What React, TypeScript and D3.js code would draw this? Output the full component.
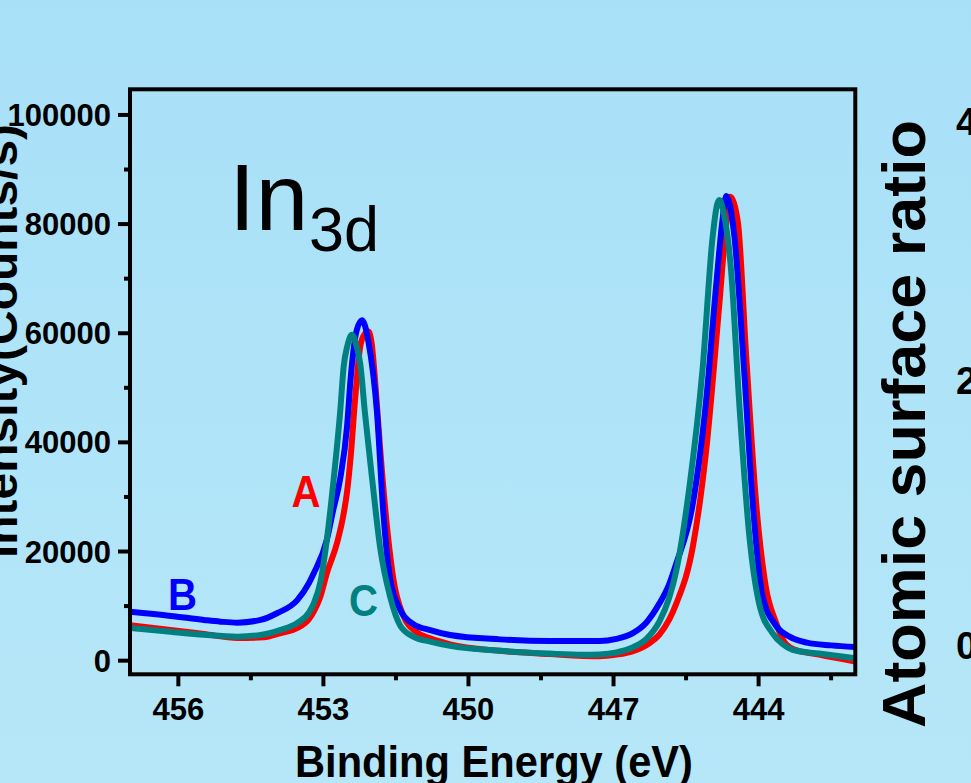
import React from "react";
import * as d3 from "d3";

// ---------- data ----------
const xTicks = [456, 453, 450, 447, 444];
const xMinorTicks = [454.5, 451.5, 448.5, 445.5, 442.5];
const yTicks = [0, 20000, 40000, 60000, 80000, 100000];
const yMinorTicks = [10000, 30000, 50000, 70000, 90000];
const rightTickLabels = ["4", "2", "0"];

const seriesNames = ["A", "B", "C"];
const seriesColors = ["#ff0000", "#0000ff", "#008080"];

// [binding energy (eV), intensity (counts/s)]
const curveA: [number, number][] = [
  [457, 6500], [456.16, 5630], [455.47, 4890], [454.78, 4150], [454.23, 4290],
  [453.9, 5020], [453.54, 6000], [453.3, 7600], [453.2, 9000], [453.06, 11800],
  [452.93, 16000], [452.72, 21500], [452.58, 27000], [452.51, 31000], [452.44, 37000],
  [452.34, 48400], [452.24, 57500], [452.15, 59800], [452.07, 60300], [452.0, 58000],
  [451.92, 50000], [451.83, 39200], [451.69, 25000], [451.55, 14800], [451.35, 8300],
  [451.07, 5200], [450.79, 4100], [450.38, 3000], [449.35, 1800], [448.32, 1200],
  [447.29, 800], [446.94, 1100], [446.61, 1700], [446.26, 3200], [446.05, 4800],
  [445.85, 7500], [445.7, 10500], [445.36, 20900], [445.09, 38000], [444.81, 65500],
  [444.67, 80000], [444.59, 85000], [444.43, 80500], [444.26, 56300], [444.05, 28800],
  [443.85, 13500], [443.64, 7000], [443.5, 3900], [443.3, 2200], [442.75, 1100],
  [442, -150],
];

const curveB: [number, number][] = [
  [457, 8950], [456.16, 8200], [455.47, 7460], [455.13, 7150], [454.78, 6960],
  [454.3, 7460], [453.96, 8690], [453.54, 11100], [453.3, 14200], [453.2, 16000],
  [452.93, 22100], [452.8, 27500], [452.65, 33500], [452.51, 43000], [452.44, 51400],
  [452.31, 60600], [452.2, 62400], [452.07, 58500], [451.89, 45300], [451.76, 27000],
  [451.62, 15000], [451.41, 9300], [451.14, 6700], [450.79, 5600], [450.38, 4700],
  [449.35, 3900], [448.32, 3600], [447.29, 3600], [446.94, 4000], [446.61, 5000],
  [446.32, 7000], [446.05, 10500], [445.85, 14000], [445.7, 17850], [445.36, 28800],
  [445.09, 47200], [444.88, 68500], [444.75, 80500], [444.67, 85150], [444.5, 77700],
  [444.3, 53300], [444.12, 28800], [443.92, 11900], [443.64, 6400], [443.36, 4400],
  [443, 3300], [442.5, 2800], [442, 2500],
];

const curveC: [number, number][] = [
  [457, 6000], [456.16, 5300], [455.47, 4750], [454.78, 4400], [454.3, 4700],
  [453.9, 5600], [453.54, 6900], [453.3, 8800], [453.2, 10500], [453.06, 14500],
  [452.93, 22100], [452.79, 33100], [452.65, 46000], [452.58, 54000], [452.51, 57500],
  [452.41, 59700], [452.31, 57500], [452.24, 54500], [452.14, 45300], [451.99, 33100],
  [451.83, 20900], [451.62, 11700], [451.41, 6400], [451.14, 4400], [450.79, 3480],
  [450.38, 2700], [449.35, 1800], [448.32, 1300], [447.64, 1100], [447.29, 1150],
  [446.94, 1500], [446.61, 2400], [446.32, 4000], [446.05, 7200], [445.85, 11500],
  [445.7, 16600], [445.43, 31900], [445.16, 53300], [444.95, 77700], [444.86, 83500],
  [444.81, 84400], [444.72, 82000], [444.57, 71600], [444.4, 47200], [444.19, 22700],
  [443.99, 10500], [443.71, 5000], [443.5, 3000], [443.3, 2000], [442.75, 1300],
  [442, 450],
];

const curves = [curveA, curveB, curveC];

// label anchor positions in data units (energy, intensity)
const labelPos: [number, number][] = [
  [451.99, 28400], // A
  [454.9, 9300], // B
  [452.07, 8000], // C
];

export default function App() {
  const W = 971;
  const H = 783;
  const left = 130, right = 855.3, top = 89.3, bottom = 674.3;

  const x = d3.scaleLinear().domain([457, 442]).range([left, right]);
  const y = d3.scaleLinear().domain([-2500, 104700]).range([bottom, top]);

  const line = d3
    .line<[number, number]>()
    .x((d) => x(d[0]))
    .y((d) => y(d[1]))
    .curve(d3.curveMonotoneX);

  const font = "'Liberation Sans', Arial, Helvetica, sans-serif";
  const labelPx: [number, number][] = [
    [306, 507],
    [182.5, 610],
    [363.5, 616],
  ];

  return (
    <svg
      width={W}
      height={H}
      style={{ position: "absolute", left: 0, top: 0, display: "block" }}
      xmlns="http://www.w3.org/2000/svg"
    >
      <defs>
        <linearGradient id="bg" x1="0" y1="0" x2="0" y2="1">
          <stop offset="0" stopColor="#a8e0f8" />
          <stop offset="1" stopColor="#b6e7f8" />
        </linearGradient>
        <clipPath id="plot">
          <rect x={left} y={top} width={right - left} height={bottom - top} />
        </clipPath>
      </defs>
      <rect x={0} y={0} width={W} height={H} fill="url(#bg)" />

      {/* curves */}
      <g clipPath="url(#plot)">
        {curves.map((c, i) => (
          <path
            key={i}
            d={line(c) || ""}
            fill="none"
            stroke={seriesColors[i]}
            strokeWidth={6}
            strokeLinejoin="round"
            strokeLinecap="round"
          />
        ))}
      </g>

      {/* frame */}
      <rect
        x={left}
        y={top}
        width={right - left}
        height={bottom - top}
        fill="none"
        stroke="#000"
        strokeWidth={4}
      />

      {/* y ticks */}
      {yTicks.map((t) => (
        <g key={"y" + t}>
          <line x1={left - 12} x2={left} y1={y(t)} y2={y(t)} stroke="#000" strokeWidth={4} />
          <text
            x={111}
            y={y(t) + 11}
            textAnchor="end"
            fontFamily={font}
            fontWeight="bold"
            fontSize={31}
            fill="#000"
          >
            {t}
          </text>
        </g>
      ))}
      {yMinorTicks.map((t) => (
        <line key={"ym" + t} x1={left - 6} x2={left} y1={y(t)} y2={y(t)} stroke="#000" strokeWidth={4} />
      ))}

      {/* x ticks */}
      {xTicks.map((t) => (
        <g key={"x" + t}>
          <line x1={x(t)} x2={x(t)} y1={bottom} y2={bottom + 12} stroke="#000" strokeWidth={4} />
          <text
            x={x(t)}
            y={720}
            textAnchor="middle"
            fontFamily={font}
            fontWeight="bold"
            fontSize={31}
            fill="#000"
          >
            {t}
          </text>
        </g>
      ))}
      {xMinorTicks.map((t) => (
        <line key={"xm" + t} x1={x(t)} x2={x(t)} y1={bottom} y2={bottom + 6} stroke="#000" strokeWidth={4} />
      ))}

      {/* axis titles */}
      <text
        x={494}
        y={777}
        textAnchor="middle"
        fontFamily={font}
        fontWeight="bold"
        fontSize={44}
        textLength={398}
        lengthAdjust="spacingAndGlyphs"
        fill="#000"
      >
        Binding Energy (eV)
      </text>
      <text
        transform="translate(17,341) rotate(-90)"
        textAnchor="middle"
        fontFamily={font}
        fontWeight="bold"
        fontSize={46}
        textLength={434}
        lengthAdjust="spacingAndGlyphs"
        fill="#000"
      >
        Intensity(Counts/s)
      </text>
      <text
        transform="translate(925,424) rotate(-90)"
        textAnchor="middle"
        fontFamily={font}
        fontWeight="bold"
        fontSize={62}
        textLength={608}
        lengthAdjust="spacingAndGlyphs"
        fill="#000"
      >
        Atomic surface ratio
      </text>

      {/* partial right axis tick labels */}
      {rightTickLabels.map((t, i) => (
        <text
          key={"r" + t}
          x={956}
          y={[135, 394, 659][i]}
          fontFamily={font}
          fontWeight="bold"
          fontSize={38}
          fill="#000"
        >
          {t}
        </text>
      ))}

      {/* In3d */}
      <text x={229} y={230} fontFamily={font} fontSize={95} fill="#000">
        In
      </text>
      <text x={309} y={251} fontFamily={font} fontSize={63} fill="#000">
        3d
      </text>

      {/* series labels */}
      {seriesNames.map((n, i) => (
        <text
          key={n}
          x={labelPx[i][0]}
          y={labelPx[i][1]}
          data-energy={labelPos[i][0]}
          textAnchor="middle"
          fontFamily={font}
          fontWeight="bold"
          fontSize={45}
          textLength={29}
          lengthAdjust="spacingAndGlyphs"
          fill={seriesColors[i]}
        >
          {n}
        </text>
      ))}
    </svg>
  );
}
